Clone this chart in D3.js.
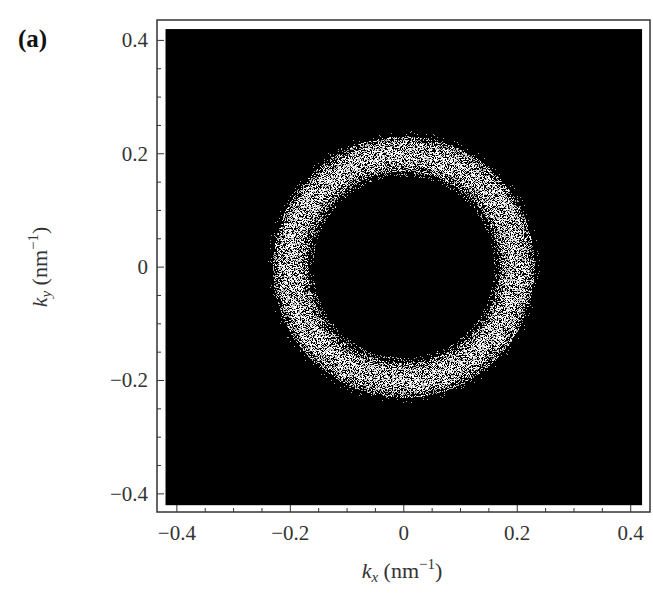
<!DOCTYPE html><html><head><script src="https://cdn.jsdelivr.net/npm/d3@7"></script>
<style>body{margin:0;background:#fff}text{font-family:"Liberation Serif","Times New Roman",serif}</style></head><body>
<script>
const xTicks=[-0.4,-0.2,0,0.2,0.4];
const yTicks=[-0.4,-0.2,0,0.2,0.4];
const ringRadius=[0.13,0.14,0.15,0.16,0.17,0.18,0.19,0.2,0.21,0.22,0.23,0.24,0.25,0.26];
const ringDensity=[0,0.05,0.15,0.35,0.55,0.7,0.8,0.82,0.8,0.7,0.5,0.25,0.08,0];
const W=653,H=605;
const svg=d3.select("body").append("svg").attr("width",W).attr("height",H);
const x=d3.scaleLinear().domain([-0.435,0.434]).range([157,650]);
const y=d3.scaleLinear().domain([-0.432,0.436]).range([512,20]);
const defs=svg.append("defs");
const f=defs.append("filter").attr("id","spk").attr("filterUnits","userSpaceOnUse")
 .attr("x",150).attr("y",15).attr("width",510).attr("height",510);
f.append("feTurbulence").attr("type","fractalNoise").attr("baseFrequency",1.3).attr("numOctaves",2).attr("seed",7).attr("result","n");
f.append("feColorMatrix").attr("in","n").attr("type","matrix").attr("values","0 0 0 0 1  0 0 0 0 1  0 0 0 0 1  2 0 0 0 -0.5").attr("result","na");
f.append("feComposite").attr("in","SourceGraphic").attr("in2","na").attr("operator","arithmetic").attr("k1",1.5).attr("k2",0).attr("k3",0).attr("k4",0).attr("result","p");
f.append("feComponentTransfer").attr("in","p").append("feFuncA").attr("type","discrete").attr("tableValues","0 0 0 0.7 1 1");
defs.append("clipPath").attr("id","cp").append("rect").attr("x",x(-0.42)).attr("y",y(0.42)).attr("width",x(0.42)-x(-0.42)).attr("height",y(-0.42)-y(0.42));
svg.append("rect").attr("x",x(-0.42)).attr("y",y(0.42)).attr("width",x(0.42)-x(-0.42)).attr("height",y(-0.42)-y(0.42)).attr("fill","#000");
const g=svg.append("g").attr("clip-path","url(#cp)").append("g").attr("filter","url(#spk)");
const px=(x(1)-x(0));
for(let i=0;i<ringRadius.length-1;i++){
 const r0=ringRadius[i],r1=ringRadius[i+1],d=(ringDensity[i]+ringDensity[i+1])/2;
 const sw=(r1-r0)*px;
 g.append("circle").attr("cx",x(0)).attr("cy",y(0)).attr("r",((r0+r1)/2)*px).attr("fill","none").attr("stroke","#fff").attr("stroke-opacity",d).attr("stroke-width",sw+0.5);
}
svg.append("rect").attr("x",157).attr("y",20).attr("width",493).attr("height",492).attr("fill","none").attr("stroke","#333").attr("stroke-width",1.5);
const minor=d3.range(-0.4,0.401,0.05).map(v=>+v.toFixed(2));
minor.forEach(v=>{
 const maj=Math.abs(Math.round(v*10)-v*10)<1e-6&&Math.round(v*10)%2==0;
 const L=maj?7:4;
 svg.append("line").attr("x1",x(v)).attr("x2",x(v)).attr("y1",512).attr("y2",512-L).attr("stroke","#333");
 svg.append("line").attr("y1",y(v)).attr("y2",y(v)).attr("x1",157).attr("x2",157+L).attr("stroke","#333");
});
const fmt=v=>v===0?"0":(v<0?"\u2212":"")+Math.abs(v).toFixed(1);
xTicks.forEach(v=>svg.append("text").attr("x",x(v)).attr("y",540).attr("text-anchor","middle").attr("font-size",21).attr("fill","#333").text(fmt(v)));
yTicks.forEach(v=>svg.append("text").attr("x",148).attr("y",y(v)+7).attr("text-anchor","end").attr("font-size",21).attr("fill","#333").text(fmt(v)));
const xt=svg.append("text").attr("x",402).attr("y",578).attr("text-anchor","middle").attr("font-size",22).attr("fill","#333");
xt.append("tspan").attr("font-style","italic").text("k");
xt.append("tspan").attr("font-style","italic").attr("font-size",15).attr("dy",4).text("x");
xt.append("tspan").attr("dy",-4).text(" (nm");
xt.append("tspan").attr("font-size",15).attr("dy",-9).text("\u22121");
xt.append("tspan").attr("dy",9).text(")");
const yt=svg.append("text").attr("transform","translate(47,267) rotate(-90)").attr("text-anchor","middle").attr("font-size",22).attr("fill","#333");
yt.append("tspan").attr("font-style","italic").text("k");
yt.append("tspan").attr("font-style","italic").attr("font-size",15).attr("dy",4).text("y");
yt.append("tspan").attr("dy",-4).text(" (nm");
yt.append("tspan").attr("font-size",15).attr("dy",-9).text("\u22121");
yt.append("tspan").attr("dy",9).text(")");
svg.append("text").attr("x",18).attr("y",47).attr("font-size",25).attr("font-weight","bold").attr("fill","#111").text("(a)");
</script></body></html>
